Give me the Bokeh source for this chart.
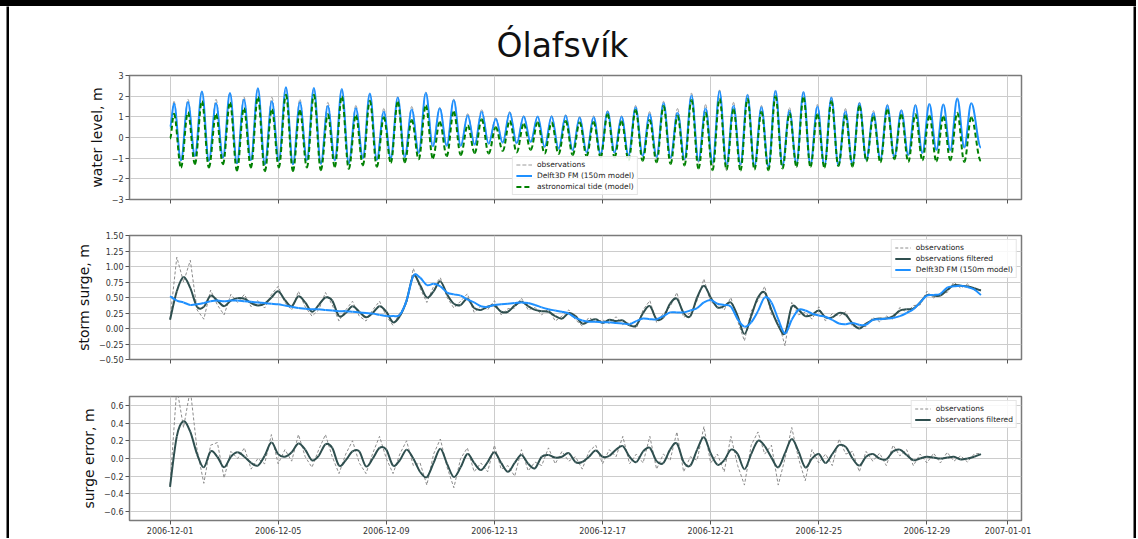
import pandas as pd
from bokeh.plotting import figure
from bokeh.layouts import column, row
from bokeh.models import Range1d, FixedTicker, Legend, LegendItem, Div
from bokeh.embed import file_html
from bokeh.resources import INLINE

FONT = "DejaVu Sans"

# ---------------- data ----------------
title_text = "Ólafsvík"
start_date = "2006-12-01 00:00"
x_start = "2006-11-29 12:00"
x_end = "2007-01-01 12:00"
x_tick_labels = ["2006-12-01", "2006-12-05", "2006-12-09", "2006-12-13", "2006-12-17",
                 "2006-12-21", "2006-12-25", "2006-12-29", "2007-01-01"]

# water level: times (hours from start) of high and low waters
high_hours = [3.5, 15.9, 28.3, 40.8, 53.2, 65.6, 78.0, 90.4, 102.9, 115.3,
              127.7, 140.1, 152.5, 165.0, 177.4, 189.8, 202.2, 214.6, 227.1, 239.5,
              251.9, 264.3, 276.7, 289.2, 301.6, 314.0, 326.4, 338.8, 351.3, 363.7,
              376.1, 388.5, 400.9, 413.4, 425.8, 438.2, 450.6, 463.0, 475.5, 487.9,
              500.3, 512.7, 525.1, 537.6, 550.0, 562.4, 574.8, 587.2, 599.7, 612.1,
              624.5, 636.9, 649.3, 661.8, 674.2, 686.6, 699.0, 711.4]
low_hours = [9.7, 22.1, 34.5, 47.0, 59.4, 71.8, 84.2, 96.6, 109.1, 121.5,
             133.9, 146.3, 158.7, 171.2, 183.6, 196.0, 208.4, 220.8, 233.3, 245.7,
             258.1, 270.5, 282.9, 295.4, 307.8, 320.2, 332.6, 345.0, 357.5, 369.9,
             382.3, 394.7, 407.1, 419.6, 432.0, 444.4, 456.8, 469.2, 481.7, 494.1,
             506.5, 518.9, 531.3, 543.8, 556.2, 568.6, 581.0, 593.4, 605.9, 618.3,
             630.7, 643.1, 655.5, 668.0, 680.4, 692.8, 705.2]
wl_end_hour = 720.0

model_high = [1.65, 1.72, 2.22, 1.66, 2.15, 1.84, 2.38, 1.76, 2.43, 1.70,
              2.40, 1.52, 2.35, 1.42, 2.13, 1.25, 1.94, 1.35, 2.15, 1.40,
              1.80, 1.07, 1.25, 0.90, 1.20, 1.02, 1.02, 1.02, 1.05, 0.97,
              0.98, 1.25, 1.00, 1.45, 1.12, 1.66, 1.20, 2.03, 1.40, 2.24,
              1.54, 2.06, 1.46, 2.26, 1.29, 2.20, 1.50, 1.94, 1.26, 1.66,
              1.18, 1.55, 1.31, 1.55, 1.62, 1.60, 1.89, 1.66]
model_low = [-1.10, -0.90, -1.12, -0.98, -1.25, -1.10, -1.30, -1.12, -1.30, -1.10,
             -1.28, -1.10, -1.25, -1.00, -1.08, -1.00, -0.95, -0.75, -0.42, -0.40,
             -0.40, -0.35, -0.30, -0.25, -0.28, -0.22, -0.45, -0.55, -0.62, -0.72,
             -0.80, -0.72, -0.88, -0.88, -0.95, -0.98, -1.05, -1.12, -1.22, -1.30,
             -1.30, -1.38, -1.42, -1.35, -1.25, -1.32, -1.38, -1.35, -1.30, -1.08,
             -1.05, -0.95, -0.85, -0.75, -0.60, -0.62, -0.48]
model_start, model_end = 0.50, -0.48

tide_high = [1.15, 1.22, 1.76, 1.12, 1.68, 1.42, 1.96, 1.36, 2.07, 1.30,
             2.07, 1.12, 1.98, 1.07, 1.78, 0.98, 1.72, 0.85, 1.55, 0.75,
             1.25, 0.58, 0.88, 0.50, 0.80, 0.65, 0.72, 0.72, 0.80, 0.73,
             0.75, 1.12, 0.78, 1.33, 0.85, 1.52, 1.05, 1.82, 1.20, 1.88,
             1.36, 1.88, 1.25, 2.00, 1.18, 1.94, 1.12, 1.76, 1.07, 1.52,
             1.03, 1.36, 1.10, 1.12, 1.05, 1.02, 1.20, 0.97]
tide_low = [-1.45, -1.28, -1.45, -1.30, -1.60, -1.45, -1.63, -1.45, -1.62, -1.45,
            -1.58, -1.42, -1.52, -1.35, -1.42, -1.22, -1.20, -1.05, -1.00, -0.90,
            -0.85, -0.75, -0.78, -0.65, -0.72, -0.60, -0.78, -0.80, -0.85, -0.90,
            -0.95, -0.95, -1.10, -1.12, -1.20, -1.28, -1.35, -1.50, -1.58, -1.55,
            -1.60, -1.55, -1.58, -1.50, -1.40, -1.42, -1.45, -1.38, -1.40, -1.15,
            -1.20, -1.05, -1.18, -1.10, -1.15, -1.10, -1.18]
tide_start, tide_end = -0.05, -1.15

obs_high = [1.75, 1.85, 2.22, 1.85, 2.15, 1.97, 2.36, 1.95, 2.40, 1.85,
            2.36, 1.70, 2.30, 1.55, 2.10, 1.40, 1.96, 1.50, 2.20, 1.45,
            1.85, 1.15, 1.35, 0.95, 1.25, 1.05, 1.00, 1.05, 1.10, 1.00,
            1.05, 1.30, 1.05, 1.55, 1.25, 1.75, 1.40, 2.15, 1.60, 2.30,
            1.70, 2.10, 1.55, 2.25, 1.45, 2.20, 1.60, 1.95, 1.40, 1.70,
            1.30, 1.60, 1.35, 1.60, 1.60, 1.60, 1.85, 1.65]
obs_low = [-1.05, -0.85, -1.10, -0.95, -1.22, -1.05, -1.28, -1.10, -1.28, -1.05,
           -1.25, -1.05, -1.22, -0.95, -1.05, -0.98, -0.90, -0.70, -0.38, -0.35,
           -0.40, -0.30, -0.28, -0.22, -0.25, -0.20, -0.45, -0.50, -0.60, -0.70,
           -0.78, -0.75, -0.85, -0.90, -0.92, -1.00, -1.10, -1.20, -1.35, -1.60,
           -1.35, -1.45, -1.40, -1.40, -1.45, -1.35, -1.40, -1.30, -1.30, -1.05,
           -1.05, -0.90, -0.85, -0.72, -0.58, -0.60, -0.45]
obs_start, obs_end = 0.45, -0.50

# storm surge / surge error: one value every 6 hours (4 per day, day 0 .. day 30)
surge_hours = list(range(0, 721, 6))
surge_obs = [
    0.15, 1.15, 0.75, 1.10,  0.30, 0.15, 0.62, 0.38,  0.22, 0.55, 0.42, 0.55,
    0.35, 0.45, 0.33, 0.55,  0.68, 0.42, 0.30, 0.60,  0.35, 0.20, 0.30, 0.58,
    0.38, 0.12, 0.30, 0.44,  0.20, 0.12, 0.30, 0.44,  0.20, 0.05, 0.25, 0.40,
    0.97, 0.65, 0.42, 0.68,  0.82, 0.50, 0.33, 0.44,  0.56, 0.26, 0.36, 0.30,
    0.45, 0.22, 0.32, 0.33,  0.49, 0.30, 0.34, 0.22,  0.32, 0.12, 0.20, 0.30,
    0.14, 0.04, 0.18, 0.10,  0.14, 0.08, 0.19, 0.06,  0.10, 0.00, 0.30, 0.45,
    0.10, 0.24, 0.35, 0.58,  0.18, 0.25, 0.45, 0.80,  0.42, 0.40, 0.30, 0.50,
    0.12, -0.20, 0.28, 0.45, 0.68, 0.22, 0.12, -0.28, 0.42, 0.22, 0.26, 0.15,
    0.35, 0.12, 0.24, 0.20,  0.27, 0.03, 0.04, 0.03,  0.18, 0.11, 0.20, 0.15,
    0.34, 0.26, 0.37, 0.38,  0.60, 0.49, 0.57, 0.58,  0.75, 0.65, 0.72, 0.62,
    0.63]
surge_filtered = [
    0.14, 0.60, 0.83, 0.65,  0.35, 0.35, 0.53, 0.45,  0.36, 0.45, 0.49, 0.48,
    0.41, 0.37, 0.40, 0.50,  0.60, 0.46, 0.36, 0.52,  0.42, 0.27, 0.38, 0.50,
    0.45, 0.20, 0.25, 0.36,  0.27, 0.18, 0.25, 0.36,  0.27, 0.10, 0.20, 0.45,
    0.85, 0.70, 0.50, 0.60,  0.76, 0.55, 0.40, 0.38,  0.48, 0.33, 0.30, 0.35,
    0.37, 0.27, 0.27, 0.37,  0.43, 0.36, 0.30, 0.28,  0.27, 0.20, 0.16, 0.25,
    0.20, 0.08, 0.12, 0.15,  0.09, 0.14, 0.12, 0.13,  0.05, 0.05, 0.25, 0.36,
    0.15, 0.18, 0.40, 0.48,  0.25, 0.20, 0.50, 0.69,  0.50, 0.34, 0.36, 0.42,
    0.20, -0.09, 0.20, 0.50, 0.58, 0.30, 0.05, -0.08, 0.35, 0.30, 0.20, 0.22,
    0.29, 0.18, 0.18, 0.25,  0.22, 0.08, 0.00, 0.08,  0.14, 0.16, 0.16, 0.20,
    0.29, 0.31, 0.32, 0.42,  0.54, 0.53, 0.53, 0.62,  0.70, 0.69, 0.68, 0.65,
    0.61]
surge_model = [
    0.52, 0.45, 0.42, 0.38,  0.39, 0.41, 0.44, 0.45,  0.44, 0.45, 0.45, 0.44,
    0.43, 0.42, 0.41, 0.40,  0.39, 0.37, 0.35, 0.33,  0.32, 0.31, 0.31, 0.30,
    0.29, 0.28, 0.28, 0.27,  0.26, 0.25, 0.24, 0.22,  0.20, 0.20, 0.22, 0.45,
    0.85, 0.82, 0.70, 0.72,  0.68, 0.58, 0.55, 0.53,  0.47, 0.42, 0.36, 0.35,
    0.38, 0.39, 0.40, 0.41,  0.42, 0.41, 0.38, 0.34,  0.31, 0.29, 0.27, 0.24,
    0.17, 0.13, 0.11, 0.11,  0.10, 0.10, 0.09, 0.08,  0.07, 0.12, 0.16, 0.15,
    0.15, 0.20, 0.26, 0.26,  0.26, 0.29, 0.33, 0.42,  0.46, 0.40, 0.38, 0.35,
    0.15, 0.03, 0.10, 0.28,  0.50, 0.42, 0.15, -0.08, 0.14, 0.30, 0.29, 0.24,
    0.21, 0.19, 0.14, 0.08,  0.07, 0.09, 0.06, 0.06,  0.14, 0.15, 0.16, 0.17,
    0.20, 0.25, 0.31, 0.42,  0.53, 0.54, 0.56, 0.66,  0.68, 0.69, 0.67, 0.63,
    0.54]
error_obs = [
    -0.30, 0.80, 0.35, 0.78,  0.10, -0.28, 0.15, 0.18,  -0.22, 0.08, 0.00, 0.12,
    -0.12, 0.00, -0.06, 0.27, -0.06, 0.10, -0.03, 0.27,  0.02, -0.10, 0.10, 0.27,
    0.02, -0.17, 0.05, 0.20,  -0.05, -0.17, 0.06, 0.25,  0.00, -0.17, 0.05, 0.20,
    -0.08, -0.05, -0.30, 0.05, 0.22, -0.10, -0.33, 0.00, 0.12, -0.15, -0.05, -0.15,
    0.15, -0.12, -0.08, -0.20, 0.10, -0.14, -0.04, -0.08, 0.12, -0.06, 0.08, -0.03,
    0.02, -0.12, 0.08, 0.15,  -0.06, 0.10, 0.02, 0.25,  -0.06, 0.05, -0.05, 0.25,
    -0.12, 0.05, -0.02, 0.30, -0.15, 0.02, -0.02, 0.36, -0.05, 0.05, -0.15, 0.25,
    -0.08, -0.30, 0.15, 0.30, 0.05, 0.15, -0.30, 0.00,  0.35, 0.00, -0.25, 0.10,
    -0.05, 0.05, -0.08, 0.22, 0.05, 0.08, -0.15, 0.08,  -0.03, 0.06, -0.08, 0.15,
    0.03, 0.10, -0.08, 0.05,  -0.05, 0.06, -0.05, 0.07, -0.03, 0.03, -0.04, 0.05,
    0.06]
error_filtered = [
    -0.32, 0.25, 0.42, 0.30,  0.05, -0.10, 0.08, 0.02,  -0.10, 0.02, 0.07, 0.02,
    -0.05, -0.08, 0.03, 0.18, 0.05, 0.02, 0.07, 0.17,   0.10, -0.02, 0.03, 0.16,
    0.12, -0.08, -0.02, 0.08, 0.08, -0.09, 0.00, 0.12,  0.10, -0.08, -0.02, 0.10,
    0.00, -0.15, -0.21, -0.05, 0.11, -0.06, -0.21, -0.10, 0.05, -0.05, -0.13, -0.04,
    0.07, -0.05, -0.15, -0.05, 0.04, -0.06, -0.11, 0.02, 0.04, 0.01, 0.02, 0.06,
    -0.04, -0.04, 0.02, 0.09, 0.02, 0.03, 0.10, 0.14,   0.02, -0.04, 0.08, 0.12,
    -0.03, -0.05, 0.10, 0.17, -0.04, -0.08, 0.10, 0.24, 0.06, -0.07, -0.02, 0.10,
    0.05, -0.12, 0.05, 0.20,  0.14, 0.01, -0.10, 0.06,  0.22, 0.08, -0.10, 0.00,
    0.05, -0.05, 0.05, 0.15,  0.13, 0.00, -0.08, 0.02,  0.05, 0.00, -0.01, 0.08,
    0.10, 0.04, -0.02, 0.00,  0.02, 0.01, 0.00, 0.01,   0.02, -0.01, 0.00, 0.02,
    0.05]

wl_ticks = [-3, -2, -1, 0, 1, 2, 3]
wl_tick_labels = ["−3", "−2", "−1", "0", "1", "2", "3"]
ss_ticks = [-0.5, -0.25, 0.0, 0.25, 0.5, 0.75, 1.0, 1.25, 1.5]
ss_tick_labels = ["−0.50", "−0.25", "0.00", "0.25", "0.50", "0.75", "1.00", "1.25", "1.50"]
se_ticks = [-0.6, -0.4, -0.2, 0.0, 0.2, 0.4, 0.6]
se_tick_labels = ["−0.6", "−0.4", "−0.2", "0.0", "0.2", "0.4", "0.6"]

# ---------------- helpers ----------------
T0_MS = pd.Timestamp(start_date).value / 1e6
HOUR_MS = 3600000.0


def hours_to_ms(hours):
    return [T0_MS + h * HOUR_MS for h in hours]


def tide_points(v_start, highs, lows, v_end):
    hrs, vals = [0.0], [v_start]
    for i, h in enumerate(highs):
        hrs.append(high_hours[i]); vals.append(h)
        if i < len(lows):
            hrs.append(low_hours[i]); vals.append(lows[i])
    hrs.append(wl_end_hour); vals.append(v_end)
    return hours_to_ms(hrs), vals


def extrema_curve(p, xs, ys, **style):
    """Smooth curve between successive extrema (horizontal tangent at each)."""
    k = 0.364
    x0, y0, x1, y1, cx0, cy0, cx1, cy1 = ([] for _ in range(8))
    for i in range(len(xs) - 1):
        dx = xs[i + 1] - xs[i]
        x0.append(xs[i]); y0.append(ys[i]); x1.append(xs[i + 1]); y1.append(ys[i + 1])
        cx0.append(xs[i] + k * dx); cy0.append(ys[i])
        cx1.append(xs[i + 1] - k * dx); cy1.append(ys[i + 1])
    return p.bezier(x0=x0, y0=y0, x1=x1, y1=y1, cx0=cx0, cy0=cy0, cx1=cx1, cy1=cy1, **style)


def smooth_curve(p, xs, ys, **style):
    """Catmull-Rom style smooth drawing through the given samples."""
    n = len(xs)
    x0, y0, x1, y1, cx0, cy0, cx1, cy1 = ([] for _ in range(8))
    for i in range(n - 1):
        a = max(i - 1, 0); d = min(i + 2, n - 1)
        x0.append(xs[i]); y0.append(ys[i]); x1.append(xs[i + 1]); y1.append(ys[i + 1])
        cx0.append(xs[i] + (xs[i + 1] - xs[a]) / 6.0); cy0.append(ys[i] + (ys[i + 1] - ys[a]) / 6.0)
        cx1.append(xs[i + 1] - (xs[d] - xs[i]) / 6.0); cy1.append(ys[i + 1] - (ys[d] - ys[i]) / 6.0)
    return p.bezier(x0=x0, y0=y0, x1=x1, y1=y1, cx0=cx0, cy0=cy0, cx1=cx1, cy1=cy1, **style)


def ms(s):
    return float(pd.Timestamp(s).value // 10**6)


x_ticks = [ms(s) for s in x_tick_labels]
x_range = Range1d(start=pd.Timestamp(x_start), end=pd.Timestamp(x_end))

W = 1124
LEFT, RIGHT = 120, 112


def make_fig(height, top, bottom, yr, yticks, ylabels, ylabel, show_x, title=None):
    kw = dict(width=W, height=height, x_axis_type="datetime", x_range=x_range,
              y_range=Range1d(*yr), output_backend="svg", toolbar_location=None,
              min_border_left=LEFT, min_border_right=RIGHT,
              min_border_top=top, min_border_bottom=bottom)
    if title:
        kw["title"] = title
    p = figure(**kw)
    p.background_fill_color = "white"
    p.border_fill_color = "white"
    p.outline_line_color = "#7a7a7a"
    p.outline_line_width = 1.5
    for ax in (p.xaxis[0], p.yaxis[0]):
        ax.axis_line_color = None
        ax.major_tick_line_color = "#555555"
        ax.major_tick_out = 4
        ax.major_tick_in = 0
        ax.minor_tick_line_color = None
        ax.major_label_text_font = FONT
        ax.major_label_text_font_size = "8px"
        ax.major_label_text_color = "#333333"
        ax.major_label_standoff = 2
    p.xaxis.ticker = FixedTicker(ticks=x_ticks, minor_ticks=[])
    if show_x:
        p.xaxis.major_label_overrides = dict(zip(x_ticks, x_tick_labels))
    else:
        p.xaxis.major_label_text_color = None
    p.yaxis.ticker = FixedTicker(ticks=[float(v) for v in yticks], minor_ticks=[])
    p.yaxis.major_label_overrides = {float(k): v for k, v in zip(yticks, ylabels)}
    p.yaxis.axis_label = ylabel
    p.yaxis.axis_label_text_font = FONT
    p.yaxis.axis_label_text_font_size = "14px"
    p.yaxis.axis_label_text_font_style = "normal"
    p.yaxis.axis_label_text_color = "#111111"
    p.yaxis.axis_label_standoff = 4
    p.grid.grid_line_color = "#cccccc"
    p.grid.grid_line_width = 1
    return p


def add_legend(p, items, loc):
    lg = Legend(items=[LegendItem(label=l, renderers=[r]) for l, r in items],
                location=loc)
    lg.label_text_font = FONT
    lg.label_text_font_size = "7.5px"
    lg.label_text_color = "#222222"
    lg.glyph_width = 16
    lg.glyph_height = 9
    lg.label_height = 9
    lg.label_standoff = 5
    lg.spacing = 2
    lg.padding = 3
    lg.margin = 4
    lg.border_line_color = "#cccccc"
    lg.border_line_width = 1
    lg.background_fill_alpha = 0.85
    p.add_layout(lg)


# ---------------- panel 1 ----------------
p1 = make_fig(213, 69, 20, (-3, 3), wl_ticks, wl_tick_labels, "water level, m", False,
              title=title_text)
p1.title.align = "left"
p1.title.offset = 367
p1.title.text_font = FONT
p1.title.text_font_size = "33px"
p1.title.text_font_style = "normal"
p1.title.text_color = "#111111"
p1.title.standoff = 22

tx, ty = tide_points(obs_start, obs_high, obs_low, obs_end)
r_obs1 = extrema_curve(p1, tx, ty, line_color="#9a9a9a", line_width=1, line_dash="4 2")
tx, ty = tide_points(model_start, model_high, model_low, model_end)
r_mod1 = extrema_curve(p1, tx, ty, line_color="#1E90FF", line_width=2)
tx, ty = tide_points(tide_start, tide_high, tide_low, tide_end)
r_tide1 = extrema_curve(p1, tx, ty, line_color="#008000", line_width=2, line_dash="5 3")
add_legend(p1, [("observations", r_obs1), ("Delft3D FM (150m model)", r_mod1),
                ("astronomical tide (model)", r_tide1)], "bottom_center")

# ---------------- panel 2 ----------------
st = hours_to_ms(surge_hours)
p2 = make_fig(160, 16, 20, (-0.5, 1.5), ss_ticks, ss_tick_labels, "storm surge, m", False)
r_obs2 = p2.line(st, surge_obs, line_color="#8c8c8c", line_width=1, line_dash="3 2",
                 line_join="round")
r_filt2 = smooth_curve(p2, st, surge_filtered, line_color="#2F4F4F", line_width=2)
r_mod2 = smooth_curve(p2, st, surge_model, line_color="#1E90FF", line_width=2)
add_legend(p2, [("observations", r_obs2), ("observations filtered", r_filt2),
                ("Delft3D FM (150m model)", r_mod2)], "top_right")

# ---------------- panel 3 ----------------
p3 = make_fig(159, 17, 18, (-0.7, 0.7), se_ticks, se_tick_labels, "surge error, m", True)
r_obs3 = p3.line(st, error_obs, line_color="#8c8c8c", line_width=1, line_dash="3 2",
                 line_join="round")
r_filt3 = smooth_curve(p3, st, error_filtered, line_color="#2F4F4F", line_width=2)
add_legend(p3, [("observations", r_obs3), ("observations filtered", r_filt3)], "top_right")


def block(w, h, color):
    f = figure(width=w, height=h, toolbar_location=None, output_backend="svg",
               title=None, min_border=0, x_axis_type=None, y_axis_type=None,
               background_fill_color=color, border_fill_color=color,
               outline_line_color=None)
    f.grid.visible = False
    return f


top_band = Div(text="", width=1136, height=6, margin=0,
               styles={"background-color": "black", "width": "1136px", "height": "6px"})

layout = column(top_band,
                row(block(6, 532, "white"), block(3, 532, "black"),
                    column(p1, p2, p3), block(3, 532, "black")))

with open("out.html", "w") as fh:
    fh.write(file_html(layout, INLINE))
